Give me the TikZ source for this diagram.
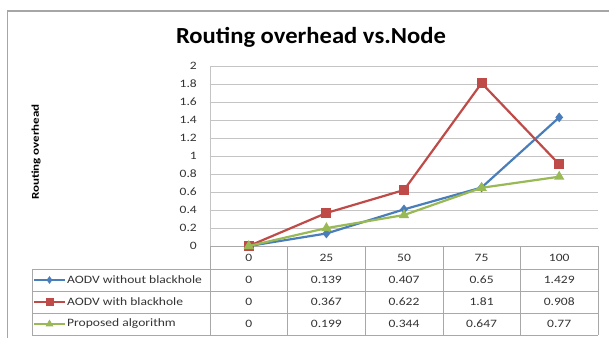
\documentclass[tikz,border=0pt]{standalone}
\usepackage{fontspec}
\setmainfont{Carlito}
\newfontfamily\chartfont[FakeStretch=1.2]{Carlito}
\newfontfamily\titlefont[FakeStretch=1.07]{Carlito}
\newfontfamily\axtitlefont[FakeStretch=1.25]{Carlito}
\usetikzlibrary{positioning, shapes.geometric, calc}

\definecolor{serblue}{HTML}{4A7EBB}
\definecolor{serred}{HTML}{BE4B48}
\definecolor{sergreen}{HTML}{98B954}
\definecolor{framegray}{HTML}{A6A6A6}
\definecolor{gridgray}{HTML}{C4C4C4}
\definecolor{tablegray}{HTML}{A8A8A8}

\begin{document}
\begin{tikzpicture}[x=1pt, y=-1pt,
    ticklabel/.style={font=\chartfont\fontsize{11.3}{11.3}\selectfont, text=black!80, inner sep=0pt},
    cell/.style={font=\chartfont\fontsize{11.3}{11.3}\selectfont, text=black!80, inner sep=0pt},
    series/.style={line width=2.2pt, line join=round},
    keyline/.style={line width=2pt},
    dmark/.style={diamond, fill=serblue, inner sep=0pt, minimum width=8pt, minimum height=10pt},
    smark/.style={rectangle, fill=serred, inner sep=0pt, minimum size=10pt},
    tmark/.style={regular polygon, regular polygon sides=3, fill=sergreen, inner sep=0pt, minimum size=12pt},
    dkey/.style={dmark, minimum width=6pt, minimum height=8pt},
    skey/.style={smark, minimum size=8pt},
    tkey/.style={tmark, minimum size=9pt}
]
\useasboundingbox (0,0) rectangle (609,338);

% chart frame (right and bottom edges are cut off)
\draw[framegray, line width=1.2pt] (7.5,338) -- (7.5,11) -- (609,11);

% title and axis title
\node[font=\titlefont\bfseries\fontsize{23}{23}\selectfont, anchor=base] (title) at (311,43) {Routing overhead vs.Node};
\node[rotate=90, font=\axtitlefont\bfseries\fontsize{10.4}{10.4}\selectfont] (ytitle) at (36,152) {Routing overhead};

% grid and value axis
\foreach \lbl [count=\i from 0] in {0,0.2,0.4,0.6,0.8,1,1.2,1.4,1.6,1.8,2} {
  \node[ticklabel, anchor=east] (tick\i) at (197,{246-18*\i}) {\lbl};
}
\foreach \i in {1,...,10}
  \draw[gridgray] (210,{246-18*\i}) -- (598,{246-18*\i});
\draw[gridgray] (210,66) -- (210,246);

% data table grid
\draw[tablegray] (210,246) -- (598,246);
\foreach \yy in {269,291,313,335}
  \draw[tablegray] (32,\yy) -- (598,\yy);
\draw[tablegray] (32,269) -- (32,335);
\foreach \c in {0,...,5}
  \draw[tablegray] ({210+77.6*\c},246) -- ({210+77.6*\c},335);

% category labels
\foreach \cat [count=\i] in {0,25,50,75,100}
  \node[cell] (cat\i) at ({210+77.6*(\i-0.5)},258) {\cat};

% series points
\foreach \v [count=\i] in {0,0.139,0.407,0.65,1.429}
  \coordinate (a\i) at ({210+77.6*(\i-0.5)},{246-90*\v});
\foreach \v [count=\i] in {0,0.367,0.622,1.81,0.908}
  \coordinate (b\i) at ({210+77.6*(\i-0.5)},{246-90*\v});
\foreach \v [count=\i] in {0,0.199,0.344,0.647,0.77}
  \coordinate (c\i) at ({210+77.6*(\i-0.5)},{246-90*\v});

% AODV without blackhole
\draw[series, serblue] (a1) -- (a2) -- (a3) -- (a4) -- (a5);
\foreach \i in {1,...,5} \node[dmark] (da\i) at (a\i) {};
% AODV with blackhole
\draw[series, serred] (b1) -- (b2) -- (b3) -- (b4) -- (b5);
\foreach \i in {1,...,5} \node[smark] (sb\i) at (b\i) {};
% Proposed algorithm
\draw[series, sergreen] (c1) -- (c2) -- (c3) -- (c4) -- (c5);
\foreach \i in {1,...,5} \node[tmark] (tc\i) at (c\i) {};

% table rows with legend keys
\coordinate (ka-l) at (34,280);  \coordinate (ka-r) at (65,280);
\draw[keyline, serblue] (ka-l) -- (ka-r);
\node[dkey] (ka) at ($(ka-l)!0.5!(ka-r)$) {};
\node[cell, anchor=west] (rowa) at (67,280) {AODV without blackhole};

\coordinate (kb-l) at (34,302);  \coordinate (kb-r) at (65,302);
\draw[keyline, serred] (kb-l) -- (kb-r);
\node[skey] (kb) at ($(kb-l)!0.5!(kb-r)$) {};
\node[cell, anchor=west] (rowb) at (67,302) {AODV with blackhole};

\coordinate (kc-l) at (34,324);  \coordinate (kc-r) at (65,324);
\draw[keyline, sergreen] (kc-l) -- (kc-r);
\node[tkey] (kc) at ($(kc-l)!0.5!(kc-r)$) {};
\node[cell, anchor=west] (rowc) at (67,324) {Proposed algorithm};

% table values
\foreach \val [count=\i] in {0,0.139,0.407,0.65,1.429}
  \node[cell] (va\i) at ({210+77.6*(\i-0.5)},280) {\val};
\foreach \val [count=\i] in {0,0.367,0.622,1.81,0.908}
  \node[cell] (vb\i) at ({210+77.6*(\i-0.5)},302) {\val};
\foreach \val [count=\i] in {0,0.199,0.344,0.647,0.77}
  \node[cell] (vc\i) at ({210+77.6*(\i-0.5)},324) {\val};
\end{tikzpicture}
\end{document}
